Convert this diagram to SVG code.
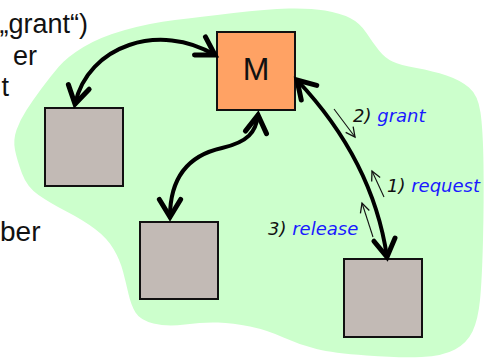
<svg xmlns="http://www.w3.org/2000/svg" width="485" height="363" viewBox="0 0 485 363">
  <style>
    .side { font-family: "Liberation Sans", Arial, sans-serif; fill: #111; }
    .box { stroke: #111; stroke-width: 2; }
    .proc { fill: #c2bab5; }
    .coord { fill: #ffa264; }
    .link { fill: none; stroke: #000; stroke-width: 4; stroke-linecap: round; }
    .msg { fill: none; stroke: #111; stroke-width: 1.1; }
    .lbl { font-family: "DejaVu Sans", Verdana, sans-serif; font-style: italic; font-size: 18px; fill: #111; }
    .lbl tspan.op { fill: #1a1aff; }
  </style>
  <defs>
    <marker id="head" markerUnits="userSpaceOnUse" markerWidth="30" markerHeight="30" viewBox="-16 -12 20 24" refX="0" refY="0" orient="auto-start-reverse" overflow="visible">
      <path d="M -14,-8.5 L 0,0 L -14,8.5" fill="none" stroke="#000" stroke-width="4" stroke-linecap="round" stroke-linejoin="miter"/>
    </marker>
    <marker id="tip" markerUnits="userSpaceOnUse" markerWidth="14" markerHeight="14" viewBox="-9 -6 12 12" refX="0" refY="0" orient="auto" overflow="visible">
      <path d="M -8,-4 L 0,0 L -8,4" fill="none" stroke="#111" stroke-width="1.1"/>
    </marker>
    <filter id="soft" x="-5%" y="-5%" width="110%" height="110%">
      <feGaussianBlur stdDeviation="0.7"/>
    </filter>
  </defs>

  <!-- shared region -->
  <path id="region" fill="#ccffcc" filter="url(#soft)" d="M16.5,130 Q20,120 26.5,110 Q33,100 41.5,88.5 Q50,77 58.5,67 Q67,57 83.5,47 Q100,37 125,30 Q150,23 175,20 Q200,17 233.5,13 Q267,9 288.5,8.5 Q310,8 325,10.5 Q340,13 350,18 Q360,23 366.5,33 Q373,43 379,50.5 Q385,58 392.5,61.5 Q400,65 416.5,68 Q433,71 446.5,75.5 Q460,80 469,87.5 Q478,95 480.5,112.5 Q483,130 483.5,165 Q484,200 483,240 Q482,280 480,300 Q478,320 472.5,331.5 Q467,343 455,349.5 Q443,356 421.5,357 Q400,358 366.5,355.5 Q333,353 316.5,349 Q300,345 283.5,337.5 Q267,330 250,326.5 Q233,323 218,322.5 Q203,322 185,324.5 Q167,327 153.5,323.5 Q140,320 135.5,312.5 Q131,305 128.5,294 Q126,283 123,271.5 Q120,260 113.5,249 Q107,238 95,229 Q83,220 66.5,211.5 Q50,203 38.5,195 Q27,187 22,173.5 Q17,160 15,150 Q13,140 16.5,130 Z"/>

  <!-- side text -->
  <g id="side-text" class="side">
    <text x="88" y="33" font-size="27" text-anchor="end">„grant“)</text>
    <text x="37" y="65" font-size="27" text-anchor="end">er</text>
    <text x="9" y="96" font-size="27" text-anchor="end">t</text>
    <text x="0" y="241" font-size="28">ber</text>
  </g>

  <!-- nodes -->
  <g id="node-m">
    <rect class="box coord" x="217" y="32" width="78" height="78"/>
    <text x="256" y="80" font-family="Liberation Sans, Arial, sans-serif" font-size="32" fill="#111" text-anchor="middle">M</text>
  </g>
  <g id="node-p1">
    <rect class="box proc" x="45" y="108" width="78" height="78"/>
  </g>
  <g id="node-p2">
    <rect class="box proc" x="140" y="222" width="78" height="77"/>
  </g>
  <g id="node-p3">
    <rect class="box proc" x="344" y="259" width="78" height="78"/>
  </g>

  <!-- connectors -->
  <g id="connectors">
    <path class="link" marker-start="url(#head)" marker-end="url(#head)" d="M 75,104 C 88,45 160,22 215,55"/>
    <path class="link" marker-start="url(#head)" marker-end="url(#head)" d="M 170,217 C 170,175 190,155 222,148 C 248,142 256,132 258,115"/>
    <path class="link" marker-start="url(#head)" marker-end="url(#head)" d="M 297,80 C 330,115 375,175 387,257"/>
    <path class="msg" marker-end="url(#tip)" d="M 334,109 L 355,137"/>
    <path class="msg" marker-end="url(#tip)" d="M 384,197 L 372,171"/>
    <path class="msg" marker-end="url(#tip)" d="M 373,237 L 362,203"/>
  </g>

  <!-- message labels -->
  <g id="labels">
    <text class="lbl" x="353" y="122">2) <tspan class="op">grant</tspan></text>
    <text class="lbl" x="387" y="192">1) <tspan class="op">request</tspan></text>
    <text class="lbl" x="268" y="235">3) <tspan class="op">release</tspan></text>
  </g>
</svg>
